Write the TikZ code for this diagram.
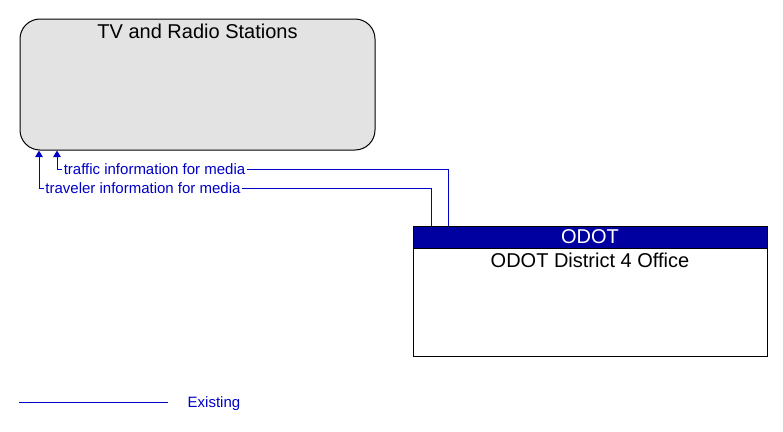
\documentclass[tikz,border=0pt]{standalone}
\usepackage{fontspec}
\setmainfont{Liberation Sans}
\usetikzlibrary{arrows.meta}
\definecolor{flowblue}{RGB}{0,0,200}
\definecolor{hdrblue}{RGB}{0,0,160}
\definecolor{boxgray}{RGB}{227,227,227}
\tikzset{
  flow/.style={draw=flowblue, line width=1pt, -{Triangle[length=6.5pt,width=7.5pt]}},
  flowlabel/.style={fill=white, text=flowblue, font=\fontsize{15}{18}\selectfont, inner xsep=1.5pt, inner ysep=0pt},
  title/.style={font=\fontsize{20}{24}\selectfont, inner sep=0pt},
}
\begin{document}
\begin{tikzpicture}[x=1pt,y=-1pt]
\useasboundingbox (0,0) rectangle (783,431);
% TV and Radio Stations
\node[draw=black, line width=1pt, fill=boxgray, rounded corners=20pt, minimum width=355pt, minimum height=131pt, inner sep=0pt] (tv) at (197.5,84.5) {};
\node[title] (tvtitle) at (197.5,31) {TV and Radio Stations};
% ODOT
\node[draw=black, line width=1pt, fill=white, minimum width=354pt, minimum height=130pt, inner sep=0pt] (odot) at (590,291) {};
\node[draw=black, line width=1pt, fill=hdrblue, minimum width=354pt, minimum height=22pt, inner sep=0pt, anchor=north] (odothdr) at (odot.north) {};
\node[title, text=white] (odotname) at (odothdr.center) {ODOT};
\node[title] (odotsub) at (590,260) {ODOT District 4 Office};
% flows
\coordinate (trafficbend) at (57,169.5);
\coordinate (travelbend) at (39,188);
\draw[flow] ([xshift=36pt]odot.north west) |- (trafficbend) -- (trafficbend |- tv.south);
\draw[flow] ([xshift=19pt]odot.north west) |- (travelbend) -- (travelbend |- tv.south);
\node[flowlabel] (trafficlabel) at (154.5,169.5) {traffic information for media};
\node[flowlabel] (travellabel) at (143,188) {traveler information for media};
% legend
\coordinate (legA) at (19,402);
\coordinate (legB) at (168,402);
\draw[flowblue, line width=1pt] (legA) -- (legB);
\node[text=flowblue, font=\fontsize{15}{18}\selectfont, inner sep=0pt] (legtext) at (214,403.5) {Existing};
\end{tikzpicture}
\end{document}
